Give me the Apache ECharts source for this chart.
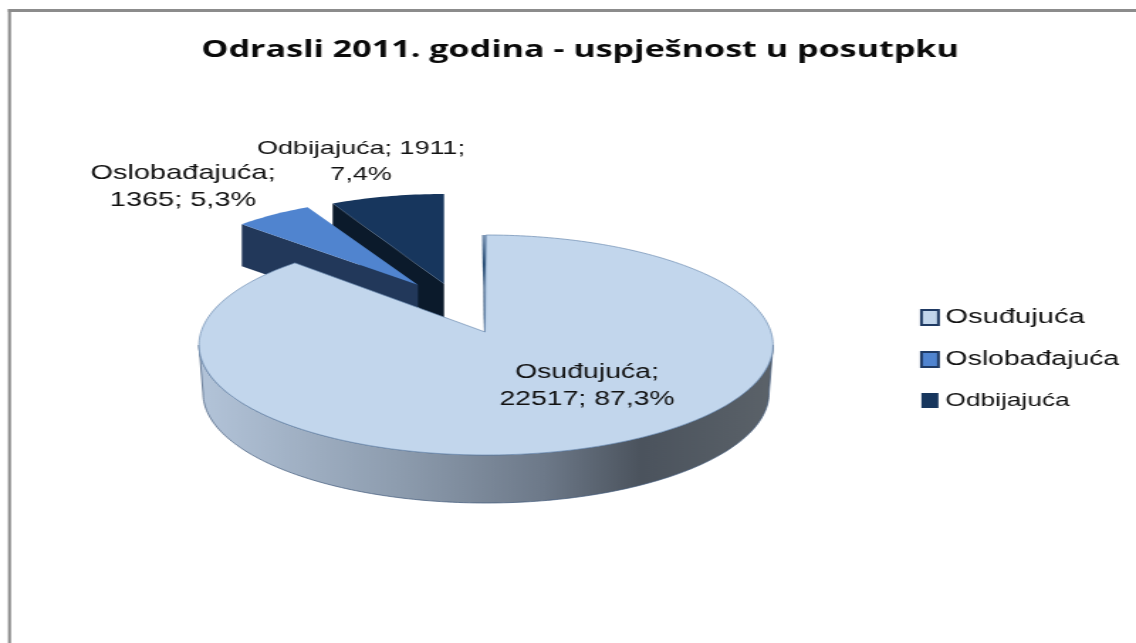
<!DOCTYPE html>
<html><head><meta charset="utf-8">
<style>html,body{margin:0;padding:0;background:#fff;overflow:hidden}
#c{width:800px;height:643px;transform:scaleX(1.42);transform-origin:0 0;}</style>
<script src="https://cdn.jsdelivr.net/npm/echarts@6/dist/echarts.min.js"></script>
</head><body><div id="c"></div>
<script>
const titleText = 'Odrasli 2011. godina - uspješnost u posutpku';
const categories = ['Osuđujuća', 'Oslobađajuća', 'Odbijajuća'];
const values = [22517, 1365, 1911];
const total = values.reduce((a, b) => a + b, 0);

const S = 1.42, X = x => x / S;
const topColors = ['#c2d6ec', '#5084cf', '#17365d'];
const sideColors = ['#7f93a8', '#22385a', '#0b1a2b'];
const legendFonts = [20.5, 20, 18.5];
const labelFonts = [20, 20.4, 19];
const labelBreak = [1, 1, 2];
const labelPos = [[587, 386], [183, 187], [361, 162]];
const geom = [
  {cx: 486, cy: 345, rx: 287, ry: 110, apex: [485, 332], depth: 48, warp: 1.0127},
  {cx: 418, cy: 285, rx: 246, ry: 87, apex: [418, 285], depth: 42, warp: 1},
  {cx: 444, cy: 284, rx: 248, ry: 90, apex: [444, 284], depth: 42, warp: 1}
];

function pct(i) { return (values[i] / total * 100).toFixed(1).replace('.', ',') + '%'; }
function labelText(i) {
  const parts = [categories[i] + ';', values[i] + ';', pct(i)];
  return parts.slice(0, labelBreak[i]).join(' ') + '\n' + parts.slice(labelBreak[i]).join(' ');
}
function ell(g, t, dy, shrink) {
  return [X(g.cx + (g.rx - (shrink || 0)) * Math.sin(t)), (g.cy + (dy || 0)) - g.ry * Math.cos(t)];
}
function arc(g, a, b, dy, shrink) {
  const pts = [], n = Math.max(2, Math.ceil(Math.abs(b - a) / 0.02));
  for (let k = 0; k <= n; k++) pts.push(ell(g, a + (b - a) * k / n, dy, shrink));
  return pts;
}
function renderSlice(i) {
  return function (params, api) {
    const v = api.value(0);
    let before = 0;
    for (let k = 0; k < i; k++) before += values[k];
    const g = geom[i];
    const a = before / total * 2 * Math.PI * g.warp;
    const b = (before + v) / total * 2 * Math.PI * g.warp;
    const apex = [X(g.apex[0]), g.apex[1]];
    const children = [];
    if (i === 0) {
      const wallA = Math.PI / 2, wallB = 3 * Math.PI / 2;
      children.push({
        type: 'polygon',
        shape: {points: arc(g, wallA, wallB, 0, 0).concat(arc(g, wallB, wallA, g.depth, 4))},
        style: {
          fill: new echarts.graphic.LinearGradient(0, 0, 1, 0, [
            {offset: 0, color: '#b3c4d9'},
            {offset: 0.35, color: '#8d9cae'},
            {offset: 0.6, color: '#6d7989'},
            {offset: 0.77, color: '#4b535d'},
            {offset: 1, color: '#5b6269'}
          ]),
          stroke: '#41597a', lineWidth: 0.7
        }
      });
      const top0 = ell(g, 0);
      children.push({
        type: 'polygon',
        shape: {points: [[X(482), top0[1]], [X(487), top0[1]], [X(488), g.apex[1]], [X(484), g.apex[1]]]},
        style: {
          fill: new echarts.graphic.LinearGradient(0, 0, 0, 1, [
            {offset: 0, color: '#7f97b5'},
            {offset: 0.3, color: '#1f456e'},
            {offset: 0.55, color: '#6d84a0'},
            {offset: 0.85, color: '#1f456e'},
            {offset: 1, color: '#6d84a0'}
          ])
        }
      });
    } else {
      const outer = ell(g, a, 0);
      const d = g.depth;
      children.push({
        type: 'polygon',
        shape: {points: [outer, apex, [apex[0], apex[1] + d], [outer[0], outer[1] + d]]},
        style: {fill: sideColors[i]}
      });
    }
    children.push({
      type: 'polygon',
      shape: {points: [apex].concat(arc(g, a, b))},
      style: {fill: topColors[i], stroke: i === 0 ? '#6d8db2' : null, lineWidth: 0.7}
    });
    const lp = labelPos[i];
    children.push({
      type: 'text', z2: 100,
      style: {
        x: X(lp[0]), y: lp[1], text: labelText(i), fill: '#111',
        font: labelFonts[i] + 'px "Liberation Sans", Arial, sans-serif',
        align: 'center', verticalAlign: 'middle', lineHeight: 26.5
      }
    });
    return {type: 'group', children};
  };
}

const chart = echarts.init(document.getElementById('c'), null, {width: 800, height: 643});
chart.setOption({
  animation: false,
  backgroundColor: '#fff',
  title: {
    text: titleText, left: X(573), top: 33, textAlign: 'center',
    textStyle: {fontFamily: '"Open Sans"', fontWeight: 'bold', fontSize: 24, color: '#0a0a0a'}
  },
  legend: {
    orient: 'vertical', left: X(920), top: 307, padding: 0, itemWidth: X(17), itemHeight: 15, itemGap: 21.5, icon: 'rect',
    data: categories.map((n, i) => ({
      name: n,
      itemStyle: {color: topColors[i], borderColor: '#1f3a63', borderWidth: i < 2 ? 2 : 0},
      textStyle: {fontSize: legendFonts[i], fontFamily: '"Liberation Sans", Arial', color: '#111'}
    }))
  },
  graphic: [
    {type: 'rect', shape: {x: X(8), y: 9, width: 800, height: 3}, style: {fill: '#8c8c8c'}},
    {type: 'rect', shape: {x: X(8), y: 9, width: X(3), height: 640}, style: {fill: '#8c8c8c'}}
  ],
  series: [2, 1, 0].map(i => ({
    type: 'custom', name: categories[i], coordinateSystem: 'none', z: 3 - i,
    itemStyle: {color: topColors[i]},
    data: [[values[i]]],
    renderItem: renderSlice(i)
  }))
});
</script></body></html>
